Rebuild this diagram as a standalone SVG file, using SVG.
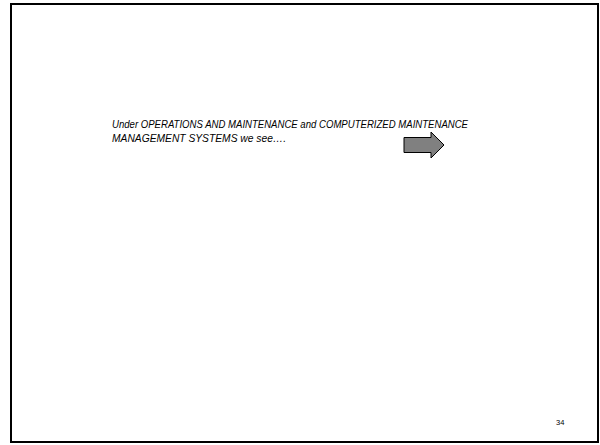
<svg xmlns="http://www.w3.org/2000/svg" width="600" height="445" viewBox="0 0 600 445">
<style>
.t{font-family:"Liberation Sans",Arial,sans-serif;font-style:italic;font-size:11px;fill:#000}
.n{font-family:"Liberation Sans",Arial,sans-serif;font-size:7.5px;fill:#000}
</style>
<rect width="600" height="445" fill="#fff"/>
<rect id="frame" x="11" y="4" width="587" height="438" fill="none" stroke="#000" stroke-width="2"/>
<g id="caption">
<text class="t" x="112" y="128" textLength="356" lengthAdjust="spacingAndGlyphs">Under OPERATIONS AND MAINTENANCE and COMPUTERIZED MAINTENANCE</text>
<text class="t" x="112" y="142" textLength="174" lengthAdjust="spacingAndGlyphs">MANAGEMENT SYSTEMS we see….</text>
</g>
<g id="arrow">
<polygon points="404,137.5 431,137.5 431,132 444,145 431,158 431,152.5 404,152.5" fill="#808080" stroke="#000" stroke-width="1"/>
</g>
<g id="page"><text class="n" x="556" y="425">34</text></g>
</svg>
